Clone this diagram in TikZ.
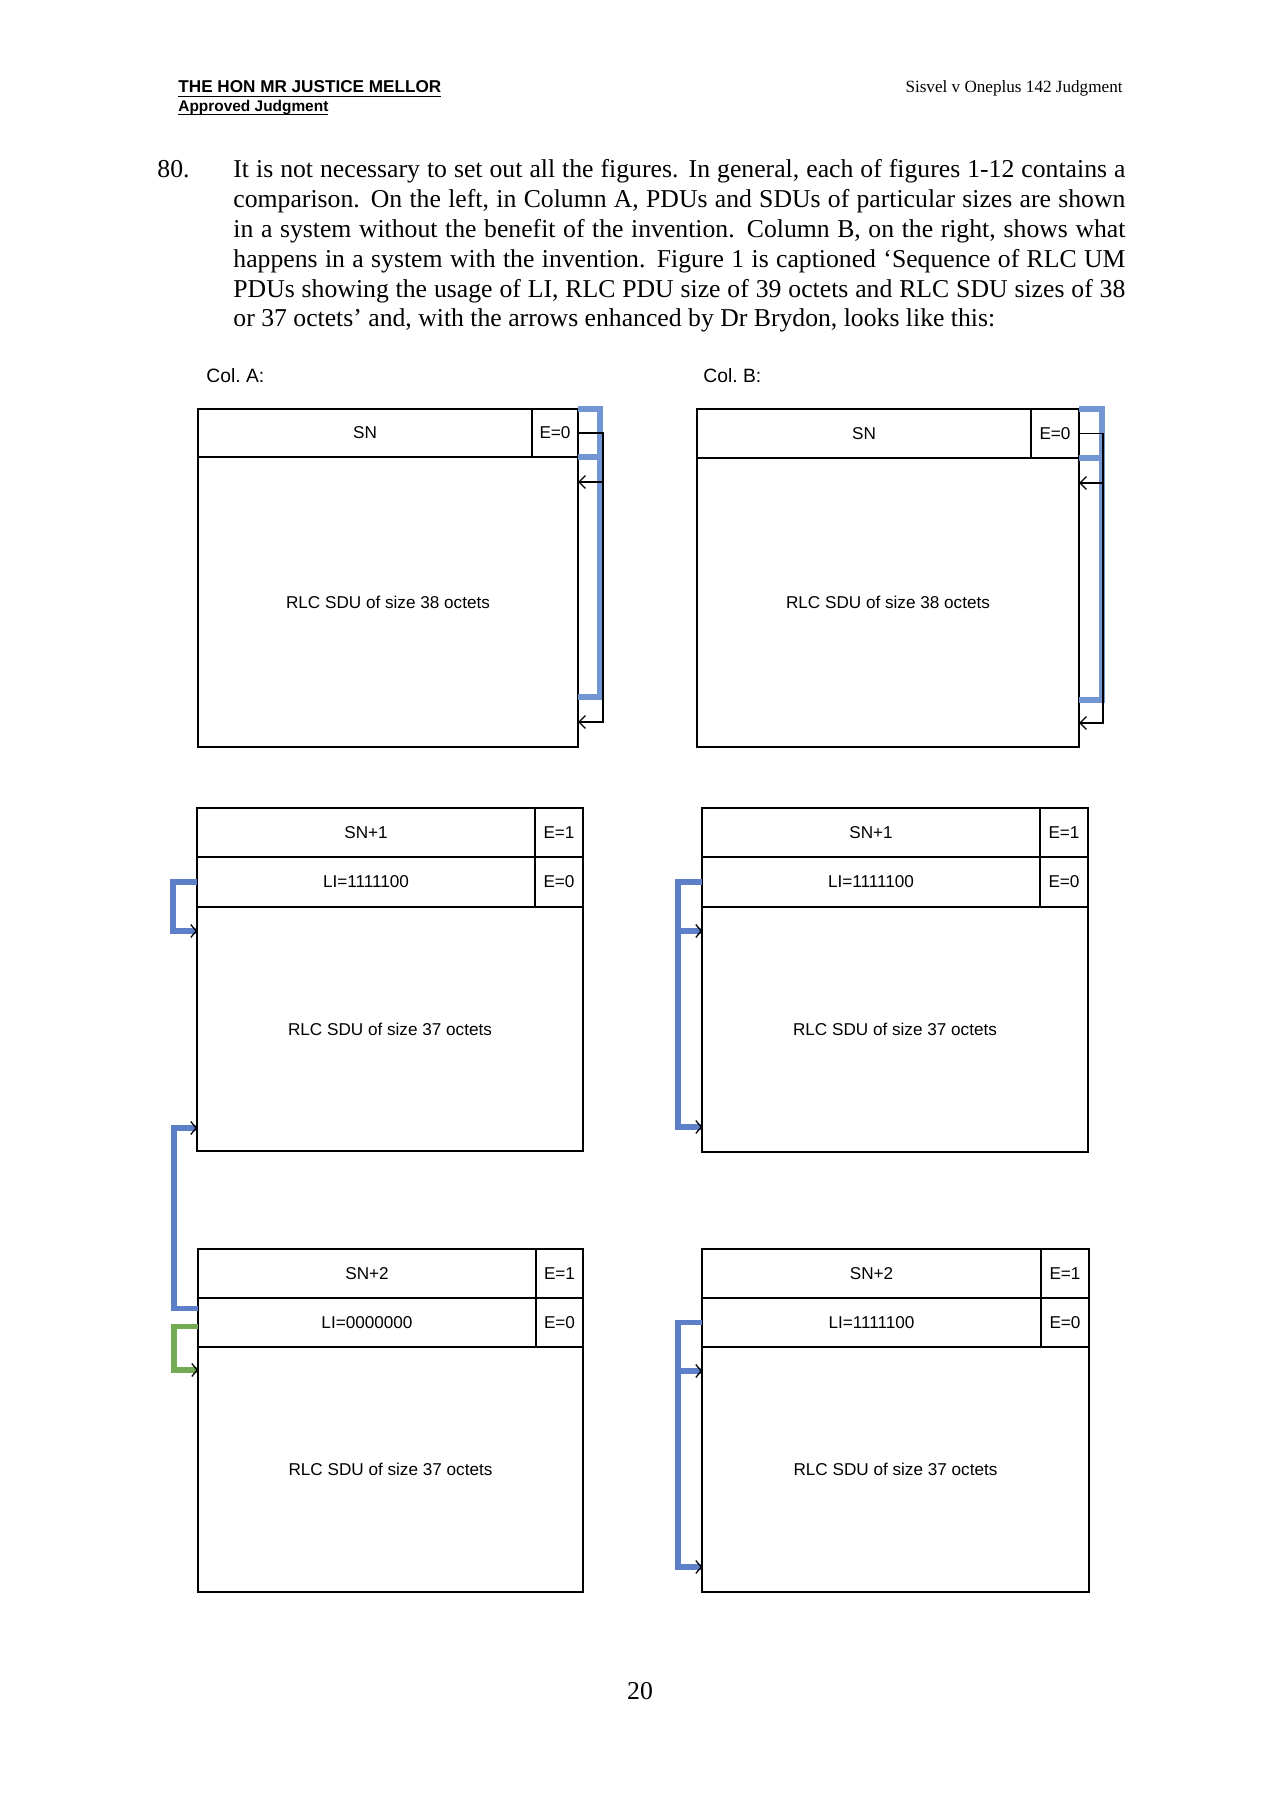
\documentclass[tikz,border=0pt]{standalone}
\usepackage{fontspec}
\setmainfont{Liberation Serif}
\newfontfamily\arialfont{Liberation Sans}
\usetikzlibrary{positioning,calc,arrows.meta}
\def\pxl{0.1640625mm}
\newcommand\diagfont{\arialfont\fontsize{8}{9.6}\selectfont}
\definecolor{bracketblue}{RGB}{114,150,212}
\definecolor{linkblue}{RGB}{92,127,200}
\definecolor{linkgreen}{RGB}{116,170,84}
\tikzset{
  pdu/.style={draw=black, line width=0.8pt, inner sep=0pt, outer sep=0pt, anchor=north west, font=\diagfont},
  field/.style 2 args={pdu, minimum width=#1*\pxl, minimum height=#2*\pxl},
  thinlink/.style={line width=0.7pt, -{Straight Barb[length=3pt,width=6pt,line width=0.6pt]}},
  rbracket/.style={draw=bracketblue, line width=3.2pt},
  lbracket/.style={draw=linkblue, line width=2.6pt, -{Straight Barb[black,length=2.5pt,width=6pt,line width=0.6pt]}},
  gbracket/.style={lbracket, draw=linkgreen}
}
\begin{document}
\begin{tikzpicture}[x=\pxl, y=-\pxl]
\path[fill=white] (0,0) rectangle (1280,1809);

\node[anchor=base west, inner sep=0pt, font=\arialfont\bfseries\fontsize{8}{9.6}\selectfont] (judge) at (178,93) {\underline{\smash{THE HON MR JUSTICE MELLOR}}};
\node[anchor=base west, inner sep=0pt, font=\arialfont\bfseries\fontsize{7.2}{8.6}\selectfont] (approved) at (178,111) {\underline{\smash{Approved Judgment}}};
\node[anchor=base east, inner sep=0pt, font=\fontsize{8}{9.6}\selectfont] (case) at (1123,93) {Sisvel v Oneplus 142 Judgment};

\node[anchor=base west, font=\fontsize{12}{13.9}\selectfont, inner sep=0pt] (pnum) at (157,178) {80.};
\node[anchor=base west, font=\fontsize{12}{13.9}\selectfont, inner sep=0pt, text width=892*\pxl, align=justify] (para) at (233,178) {It is not necessary to set out all the figures.  In general, each of figures 1-12 contains a\linebreak comparison.  On the left, in Column A, PDUs and SDUs of particular sizes are shown\linebreak in a system without the benefit of the invention.  Column B, on the right, shows what\linebreak happens in a system with the invention. Figure 1 is captioned ‘Sequence of RLC UM\linebreak PDUs showing the usage of LI, RLC PDU size of 39 octets and RLC SDU sizes of 38\linebreak or 37 octets’ and, with the arrows enhanced by Dr Brydon, looks like this:};

\node[anchor=base west, font=\arialfont\fontsize{9}{10.8}\selectfont, inner sep=0pt] (colA) at (206,382) {Col.\ A:};
\node[anchor=base west, font=\arialfont\fontsize{9}{10.8}\selectfont, inner sep=0pt] (colB) at (703,382) {Col.\ B:};

\node[field={334}{48}] (snA1) at (198,409) {SN};
\node[field={46}{48}, right=0pt of snA1] (eA1) {E=0};
\node[field={380}{290}] (sduA1) at (snA1.south west) {RLC SDU of size 38 octets};

\node[field={334}{49}] (snB1) at (697,409) {SN};
\node[field={48}{49}, right=0pt of snB1] (eB1) {E=0};
\node[field={382}{289}] (sduB1) at (snB1.south west) {RLC SDU of size 38 octets};

\node[field={338}{49}] (snA2) at (197,808) {SN+1};
\node[field={48}{49}, right=0pt of snA2] (eA2) {E=1};
\node[field={338}{50}] (liA2) at (snA2.south west) {LI=1111100};
\node[field={48}{50}, right=0pt of liA2] (elA2) {E=0};
\node[field={386}{244}] (sduA2) at (liA2.south west) {RLC SDU of size 37 octets};

\node[field={338}{49}] (snB2) at (702,808) {SN+1};
\node[field={48}{49}, right=0pt of snB2] (eB2) {E=1};
\node[field={338}{50}] (liB2) at (snB2.south west) {LI=1111100};
\node[field={48}{50}, right=0pt of liB2] (elB2) {E=0};
\node[field={386}{245}] (sduB2) at (liB2.south west) {RLC SDU of size 37 octets};

\node[field={338}{49}] (snA3) at (198,1249) {SN+2};
\node[field={47}{49}, right=0pt of snA3] (eA3) {E=1};
\node[field={338}{49}] (liA3) at (snA3.south west) {LI=0000000};
\node[field={47}{49}, right=0pt of liA3] (elA3) {E=0};
\node[field={385}{245}] (sduA3) at (liA3.south west) {RLC SDU of size 37 octets};

\node[field={339}{49}] (snB3) at (702,1249) {SN+2};
\node[field={48}{49}, right=0pt of snB3] (eB3) {E=1};
\node[field={339}{49}] (liB3) at (snB3.south west) {LI=1111100};
\node[field={48}{49}, right=0pt of liB3] (elB3) {E=0};
\node[field={387}{245}] (sduB3) at (liB3.south west) {RLC SDU of size 37 octets};

\draw[rbracket] (eA1.north east) -- ++(22,0) |- ($(sduA1.south east)+(0,-50)$);
\draw[rbracket] (sduA1.north east) -- ++(22,0);
\draw[thinlink] (eA1.east) -- ++(25,0) coordinate (tA1) |- ($(sduA1.north east)+(0,25)$);
\draw[thinlink] (tA1) |- ($(sduA1.south east)+(0,-25)$);

\draw[rbracket] (eB1.north east) -- ++(23,0) |- ($(sduB1.south east)+(0,-47)$);
\draw[rbracket] (sduB1.north east) -- ++(23,0);
\draw[thinlink] (eB1.east) -- ++(24,0) coordinate (tB1) |- ($(sduB1.north east)+(0,25)$);
\draw[thinlink] (tB1) |- ($(sduB1.south east)+(0,-24)$);

\draw[lbracket] (liA2.west) -- ++(-24,0) |- ($(sduA2.north west)+(0,24)$);
\draw[lbracket] ($(liA3.west)+(0,-14)$) -- ++(-24,0) |- ($(sduA2.south west)+(0,-23)$);
\draw[gbracket] ($(liA3.west)+(0,4)$) -- ++(-24,0) |- ($(sduA3.north west)+(0,23)$);

\draw[lbracket] (liB2.west) -- ++(-24,0) coordinate (kB2) |- ($(sduB2.north west)+(0,24)$);
\draw[lbracket] (kB2) |- ($(sduB2.south west)+(0,-25)$);
\draw[lbracket] (liB3.west) -- ++(-24,0) coordinate (kB3) |- ($(sduB3.north west)+(0,24)$);
\draw[lbracket] (kB3) |- ($(sduB3.south west)+(0,-25)$);

\node[anchor=base, font=\fontsize{12}{13.9}\selectfont] (page) at (640,1699) {20};
\end{tikzpicture}
\end{document}
